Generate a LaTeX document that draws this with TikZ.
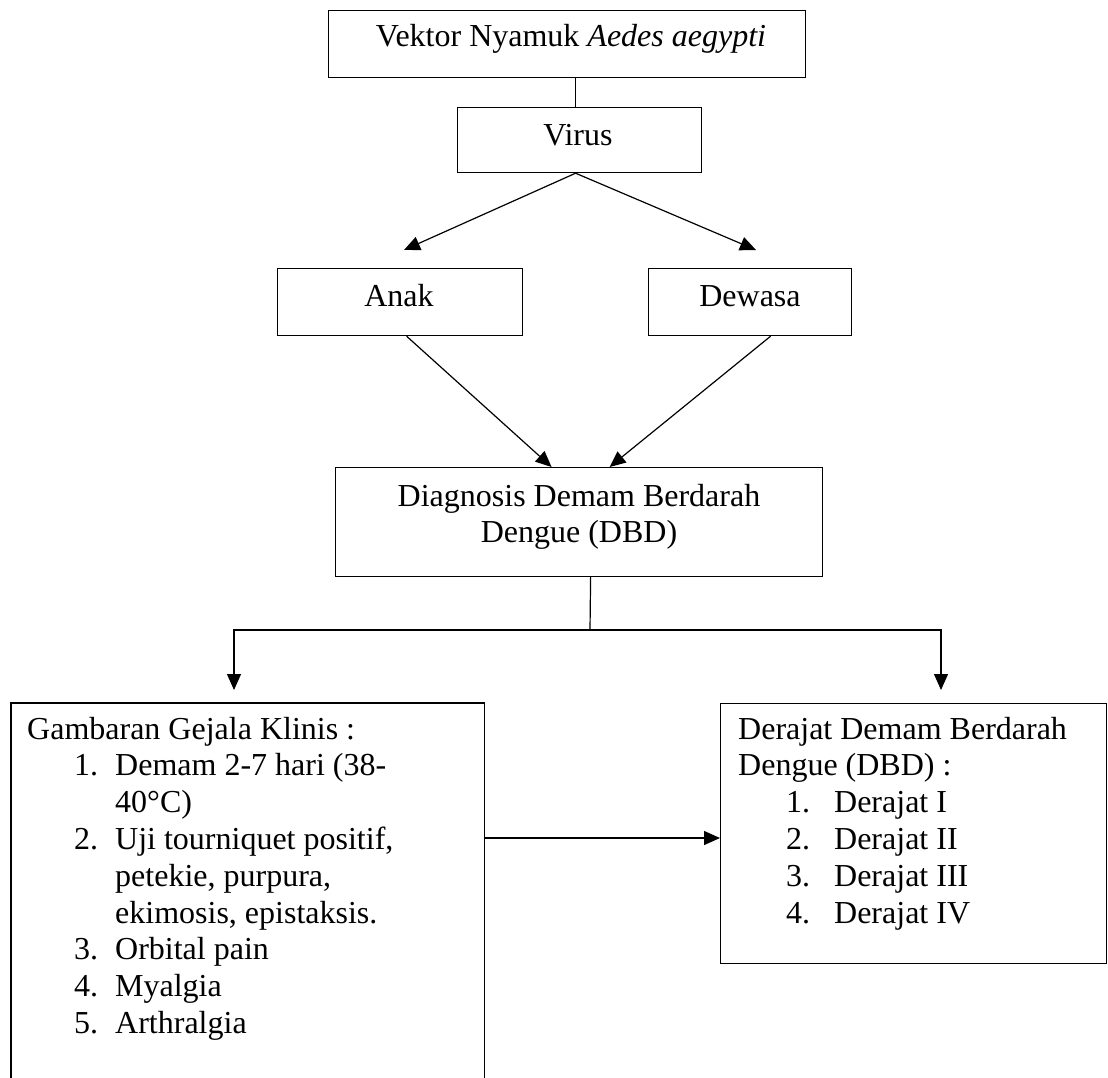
\documentclass[tikz,border=0pt]{standalone}
\usepackage{fontspec}
\setmainfont{Liberation Serif}
\usetikzlibrary{arrows.meta,calc}
\newcommand\gitem[2]{\hspace*{47pt}\makebox[41pt][l]{#1}#2}
\newcommand\ditem[2]{\hspace*{48pt}\makebox[48pt][l]{#1}#2}
\begin{document}
\begin{tikzpicture}[x=1pt,y=-1pt,
  box/.style={draw, line width=1.2pt, inner sep=0pt, anchor=north west},
  txt/.style={anchor=base, inner sep=0pt, font=\fontsize{32}{36.8}\selectfont},
  lst/.style={anchor=base west, inner sep=0pt, font=\fontsize{32}{36.8}\selectfont},
  link/.style={line width=1.2pt},
  arr/.style={line width=1.2pt, -{Triangle[length=16pt,width=14pt]}}]
\useasboundingbox (0,0) rectangle (1108,1077);
% boxes
\node[box, minimum width=477pt, minimum height=67pt] (top) at (328,10) {};
\node[box, minimum width=244pt, minimum height=65pt] (virus) at (457,107) {};
\node[box, minimum width=245pt, minimum height=67pt] (anak) at (277,268) {};
\node[box, minimum width=203pt, minimum height=67pt] (dewasa) at (648,268) {};
\node[box, minimum width=487pt, minimum height=109pt] (diag) at (335,467) {};
\node[box, draw=none, minimum width=472pt, minimum height=374pt] (gamb) at (11,703) {};
\draw[link] (gamb.south west) |- (gamb.north east) -- (gamb.south east);
\node[box, minimum width=386pt, minimum height=260pt] (der) at (720,703) {};
% texts
\node[txt] (ttop) at (571,46) {Vektor Nyamuk \textit{Aedes aegypti}};
\node[txt] (tvirus) at (578,145) {Virus};
\node[txt] (tanak) at (399,306) {Anak};
\node[txt] (tdewasa) at (750,306) {Dewasa};
\node[txt] (tdiag) at (579,506) {\begin{tabular}[t]{@{}c@{}}Diagnosis Demam Berdarah\\Dengue (DBD)\end{tabular}};
\node[lst] (tgamb) at (27,739) {\begin{tabular}[t]{@{}l@{}}
Gambaran Gejala Klinis :\\
\gitem{1.}{Demam 2-7 hari (38-}\\
\gitem{}{40°C)}\\
\gitem{2.}{Uji tourniquet positif,}\\
\gitem{}{petekie, purpura,}\\
\gitem{}{ekimosis, epistaksis.}\\
\gitem{3.}{Orbital pain}\\
\gitem{4.}{Myalgia}\\
\gitem{5.}{Arthralgia}
\end{tabular}};
\node[lst] (tder) at (738,739) {\begin{tabular}[t]{@{}l@{}}
Derajat Demam Berdarah\\
Dengue (DBD) :\\
\ditem{1.}{Derajat I}\\
\ditem{2.}{Derajat II}\\
\ditem{3.}{Derajat III}\\
\ditem{4.}{Derajat IV}
\end{tabular}};
% connectors
\coordinate (tipA) at (404,250);
\coordinate (tipD) at (756,250);
\coordinate (split) at (590,630);
\coordinate (tipG) at (234,690);
\coordinate (tipR) at (941,690);
\coordinate (hy) at (600,838);
\draw[link] ($(virus.north)+(-4,0)$) -- ($(top.south)+(8.5,0)$);
\draw[arr] ($(virus.south)+(-4,0)$) -- (tipA);
\draw[arr] ($(virus.south)+(-4,0)$) -- (tipD);
\draw[arr] ($(anak.south)+(6.5,0)$) -- ($(diag.north)+(-27.5,0)$);
\draw[arr] ($(dewasa.south)+(20.5,0)$) -- ($(diag.north)+(30.5,0)$);
\draw[link] ($(diag.south)+(11.5,0)$) -- (split);
\draw[arr] (split) -| (tipG);
\draw[arr] (split) -| (tipR);
\draw[arr] (gamb.east |- hy) -- (der.west |- hy);
\end{tikzpicture}
\end{document}
